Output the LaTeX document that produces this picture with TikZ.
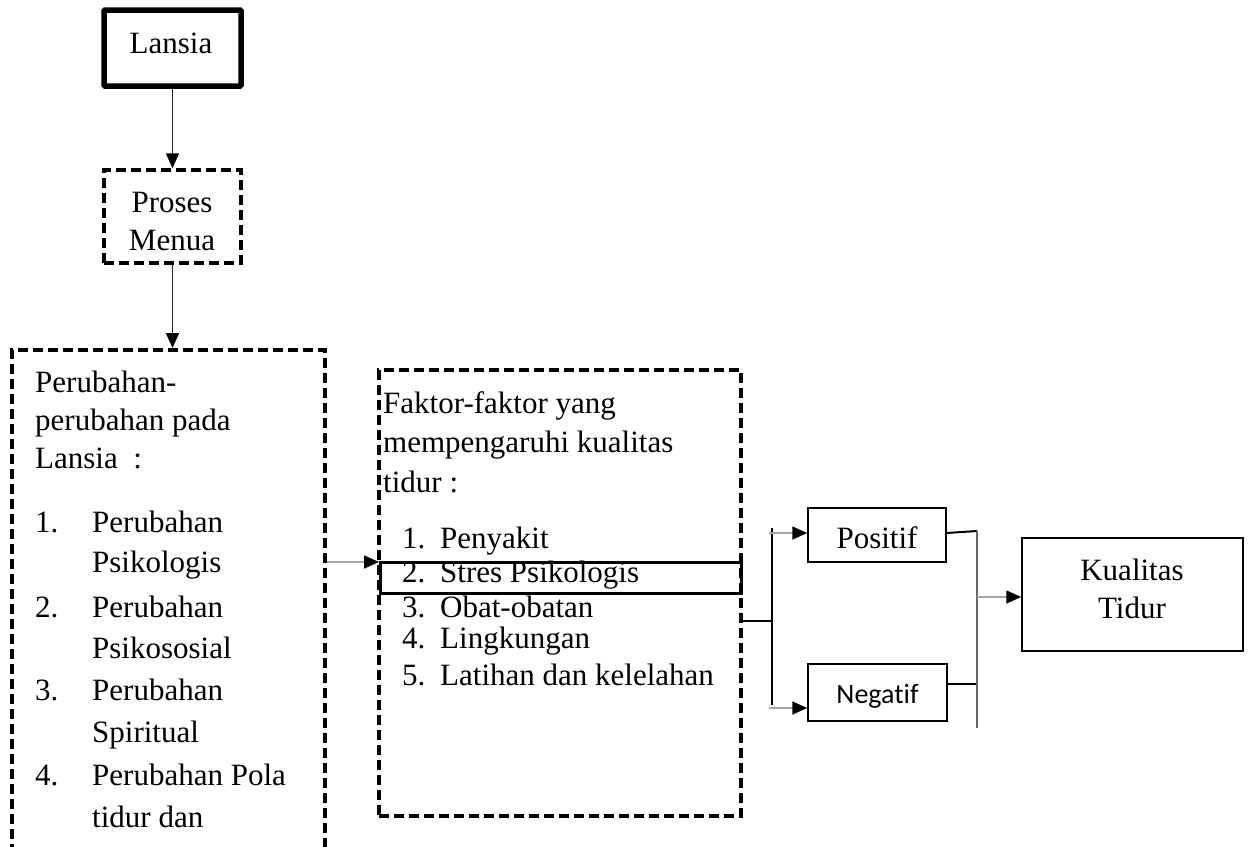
\documentclass[tikz,border=0pt]{standalone}
\usepackage{fontspec}
\setmainfont{Liberation Serif}
\newfontfamily\calib[Ligatures=NoCommon]{Carlito}
\usetikzlibrary{arrows.meta,calc}
\begin{document}
\begin{tikzpicture}[x=1pt,y=-1pt,
  txt/.style={inner sep=0pt,anchor=base west,font=\fontsize{31}{36}\selectfont},
  ctxt/.style={inner sep=0pt,anchor=base,font=\fontsize{31}{36}\selectfont},
  dbox/.style={draw,line width=4pt,dash pattern=on 10pt off 5pt,minimum width=#1,inner sep=0pt},
  sbox/.style={draw,line width=1.5pt,inner sep=0pt},
  arr/.style={draw=gray!70,line width=1.6pt,-{Triangle[length=15pt,width=13pt,fill=black,color=black]}},
  darr/.style={draw=black!85,line width=1.6pt,-{Triangle[length=15pt,width=13pt,fill=black,color=black]}},
  bl/.style={draw=black,line width=2pt},
  gl/.style={draw=gray!80!black,line width=2pt}
]
\useasboundingbox (0,0) rectangle (1250,846);
\clip (0,0) rectangle (1250,846);
\fill[white] (0,0) rectangle (1250,846);

% boxes
\node[draw,line width=5.5pt,rounded corners=1pt,minimum width=137pt,minimum height=76pt,inner sep=0pt] (Lansia) at (172.5,48) {};
\node[dbox=137pt,line width=3.5pt,minimum height=93pt] (Proses) at (172.5,216.5) {};
\node[dbox=313pt,minimum height=560pt] (Left) at (168.5,630) {};
\node[dbox=362pt,minimum height=446pt] (Mid) at (560,593) {};
\node[draw,line width=3pt,minimum width=361pt,minimum height=31pt,inner sep=0pt] (Stres) at (560.5,577.5) {};
\node[sbox,minimum width=138pt,minimum height=54pt] (Pos) at (877,535) {};
\node[sbox,minimum width=139pt,minimum height=57pt] (Neg) at (877.5,692.5) {};
\node[sbox,minimum width=221pt,minimum height=113pt] (Kual) at (1132.5,594.5) {};

% texts
\node[ctxt] (tLansia) at (171,53) {Lansia};
\node[ctxt] (tProses) at (172,212) {Proses};
\node[ctxt] (tMenua) at (172,250) {Menua};

\node[txt] (l1) at (35,392) {Perubahan-};
\node[txt] (l2) at (35,430) {perubahan pada};
\node[txt] (l3) at (35,468) {Lansia\ \ :};
\node[txt] (n1) at (35,532) {1.};
\node[txt] (i1a) at (92,532) {Perubahan};
\node[txt] (i1b) at (92,572) {Psikologis};
\node[txt] (n2) at (35,617) {2.};
\node[txt] (i2a) at (92,617) {Perubahan};
\node[txt] (i2b) at (92,658) {Psikososial};
\node[txt] (n3) at (35,700) {3.};
\node[txt] (i3a) at (92,700) {Perubahan};
\node[txt] (i3b) at (92,742) {Spiritual};
\node[txt] (n4) at (35,785) {4.};
\node[txt] (i4a) at (92,785) {Perubahan Pola};
\node[txt] (i4b) at (92,827) {tidur dan};

\node[txt] (m1) at (383,413) {Faktor-faktor yang};
\node[txt] (m2) at (383,452) {mempengaruhi kualitas};
\node[txt] (m3) at (383,492) {tidur :};
\node[txt] (k1) at (402,548) {1.};
\node[txt] (t1) at (440,548) {Penyakit};
\node[txt] (k2) at (402,582) {2.};
\node[txt] (t2) at (440,582) {Stres Psikologis};
\node[txt] (k3) at (402,617) {3.};
\node[txt] (t3) at (440,617) {Obat-obatan};
\node[txt] (k4) at (402,648) {4.};
\node[txt] (t4) at (440,648) {Lingkungan};
\node[txt] (k5) at (402,685) {5.};
\node[txt] (t5) at (440,685) {Latihan dan kelelahan};

\node[ctxt] (tPos) at (877,548) {Positif};
\node[inner sep=0pt,anchor=base,font=\calib\fontsize{28}{32}\selectfont] (tNeg) at (877.5,703) {Negatif};
\node[ctxt] (tK1) at (1132,580) {Kualitas};
\node[ctxt] (tK2) at (1132,618) {Tidur};

% connectors
\draw[darr] (Lansia.south) -- (Proses.north);
\draw[darr] (Proses.south) -- (Proses.south |- Left.north);
\coordinate (a1) at (379,562);
\draw[arr] (Left.east |- a1) -- (a1);

\coordinate (br) at (772,621);
\coordinate (bt) at (772,528);
\coordinate (bb) at (772,705);
\draw[bl] (Mid.east |- br) -- (br);
\draw[bl] (bt) -- (bb);
\coordinate (pa) at (769,533);
\draw[arr] (pa) -- (pa -| Pos.west);
\coordinate (na) at (769,708);
\draw[arr] (na) -- (na -| Neg.west);

\coordinate (pr) at (977,531);
\coordinate (nr) at (977,684);
\coordinate (rb) at (977,728);
\draw[bl] (Pos.east |- 0,533) -- (pr);
\draw[bl] (Neg.east |- nr) -- (nr);
\draw[gl] (pr) -- (rb);
\coordinate (ka) at (977,597);
\draw[arr] (ka) -- (ka -| Kual.west);
\end{tikzpicture}
\end{document}
